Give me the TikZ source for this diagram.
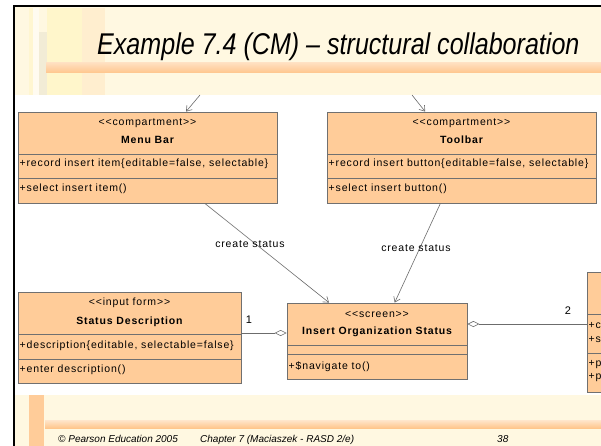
\documentclass[tikz,border=0pt]{standalone}
\usepackage{fontspec}
\setmainfont{Liberation Sans}
\newfontfamily\umlfont{Liberation Sans}[LetterSpace=8]
\usetikzlibrary{arrows.meta,calc}
\definecolor{boxfill}{HTML}{FFCC99}
\definecolor{boxline}{HTML}{707070}
\definecolor{cream}{HTML}{FFF8E1}
\newcommand{\stereotype}[1]{\textless\textless#1\textgreater\textgreater}
\begin{document}
\begin{tikzpicture}[x=1pt,y=-1pt,
    classbox/.style={draw=boxline,fill=boxfill,line width=0.8pt,inner sep=0pt},
    divider/.style={draw=boxline,line width=0.8pt},
    stereo/.style={font=\umlfont\fontsize{10.5}{11}\selectfont,inner sep=0pt,anchor=base},
    cname/.style={font=\umlfont\fontsize{10.5}{11}\selectfont\bfseries,inner sep=0pt,anchor=base},
    member/.style={font=\umlfont\fontsize{10.5}{11}\selectfont,inner sep=0pt,anchor=base west},
    link/.style={draw=gray!85!black,line width=0.6pt},
    dep/.style={link,-{Straight Barb[length=5pt,width=7pt]}},
    aggr/.style={link,{Diamond[open,length=12pt,width=6pt]}-},
    lbl/.style={font=\umlfont\fontsize{10.5}{11}\selectfont,inner sep=0pt,anchor=base}]
  \clip (0,0) rectangle (601,446);
  %sfondo
  \fill[white] (0,0) rectangle (601,446);
  \fill[cream] (15,6) rectangle (601,95);
  \fill[yellow!6!cream] (29,8) rectangle (33,95);
  \fill[white!50!cream] (33,8) rectangle (39,95);
  \fill[black!5!cream] (39,32) rectangle (47,95);
  \fill[yellow!9!cream] (47,8) rectangle (82,95);
  \fill[orange!8!cream] (82,8) rectangle (105,95);
  \shade[top color=orange!25,bottom color=orange!45] (46,63) rectangle (601,73);
  \fill[cream] (15,395) rectangle (601,446);
  \fill[boxfill] (29,395) rectangle (44,446);
  \shade[top color=orange!20,bottom color=orange!45] (45,420) rectangle (601,428);
  \fill[black] (13,5) rectangle (601,7);
  \fill[black] (13,5) rectangle (15,446);
  %titolo
  \node[anchor=base west,inner sep=0pt,font=\fontsize{30}{32}\selectfont\itshape] (title) at (97,55)
    {\scalebox{0.836}[1]{Example 7.4 (CM) – structural collaboration}};
  %classi
  \node[classbox,minimum width=259pt,minimum height=91pt] (menubar) at (147.5,157.5) {};
  \draw[divider] (18,154) -- (277,154) (18,178) -- (277,178);
  \node[stereo] (mbst) at (147.5,126) {\stereotype{compartment}};
  \node[cname] (mbname) at (147.5,144) {Menu Bar};
  \node[member] (mbattr) at (19.5,167) {+record insert item\{editable=false, selectable\}};
  \node[member] (mbop) at (19.5,192) {+select insert item()};

  \node[classbox,minimum width=269pt,minimum height=91pt] (toolbar) at (461.5,157.5) {};
  \draw[divider] (327,154) -- (596,154) (327,178) -- (596,178);
  \node[stereo] (tbst) at (461.5,126) {\stereotype{compartment}};
  \node[cname] (tbname) at (461.5,144) {Toolbar};
  \node[member] (tbattr) at (328.5,167) {+record insert button\{editable=false, selectable\}};
  \node[member] (tbop) at (328.5,192) {+select insert button()};

  \node[classbox,minimum width=223pt,minimum height=91pt] (statusdesc) at (129.5,337.5) {};
  \draw[divider] (18,334) -- (241,334) (18,359) -- (241,359);
  \node[stereo] (sdst) at (129.5,305) {\stereotype{input form}};
  \node[cname] (sdname) at (129.5,324) {Status Description};
  \node[member] (sdattr) at (19.5,348) {+description\{editable, selectable=false\}};
  \node[member] (sdop) at (19.5,372) {+enter description()};

  \node[classbox,minimum width=180pt,minimum height=76pt] (insertorg) at (377,341) {};
  \draw[divider] (287,345) -- (467,345) (287,354) -- (467,354);
  \node[stereo] (iost) at (377,317) {\stereotype{screen}};
  \node[cname] (ioname) at (377,334) {Insert Organization Status};
  \node[member] (ioop) at (288.5,369) {+\$navigate to()};

  \node[classbox,minimum width=60pt,minimum height=120pt] (rightbox) at (617,332) {};
  \draw[divider] (587,314) -- (647,314) (587,353) -- (647,353);
  \node[member] (rbc) at (588.5,328) {+c};
  \node[member] (rbs) at (588.5,342) {+s};
  \node[member] (rbp) at (588.5,366) {+p};
  \node[member] (rbq) at (588.5,379) {+p};
  %collegamenti
  \coordinate (mbin) at (200,95);
  \coordinate (tbin) at (412,95);
  \draw[dep] (mbin) -- (menubar);
  \draw[dep] (tbin) -- (toolbar);
  \draw[dep] (menubar) -- (insertorg);
  \draw[dep] (toolbar) -- (insertorg);
  \node[lbl] (cs1) at (250,247) {create status};
  \node[lbl] (cs2) at (416,251) {create status};
  \coordinate (aggl) at ([yshift=8pt]insertorg.west);
  \coordinate (aggr) at ([yshift=17pt]insertorg.east);
  \draw[aggr] (aggl) -- (aggl -| statusdesc.east);
  \draw[aggr] (aggr) -- (aggr -| rightbox.west);
  \node[lbl,font=\fontsize{11}{12}\selectfont] (m1) at (249,323) {1};
  \node[lbl,font=\fontsize{11}{12}\selectfont] (m2) at (568,314) {2};
  %pie di pagina
  \node[anchor=base west,inner sep=0pt,font=\fontsize{10}{12}\selectfont\itshape] (copy) at (58,442) {© Pearson Education 2005};
  \node[anchor=base west,inner sep=0pt,font=\fontsize{10}{12}\selectfont\itshape] (chap) at (200,442) {Chapter 7 (Maciaszek - RASD 2/e)};
  \node[anchor=base west,inner sep=0pt,font=\fontsize{10}{12}\selectfont\itshape] (page) at (497,442) {38};
\end{tikzpicture}
\end{document}
